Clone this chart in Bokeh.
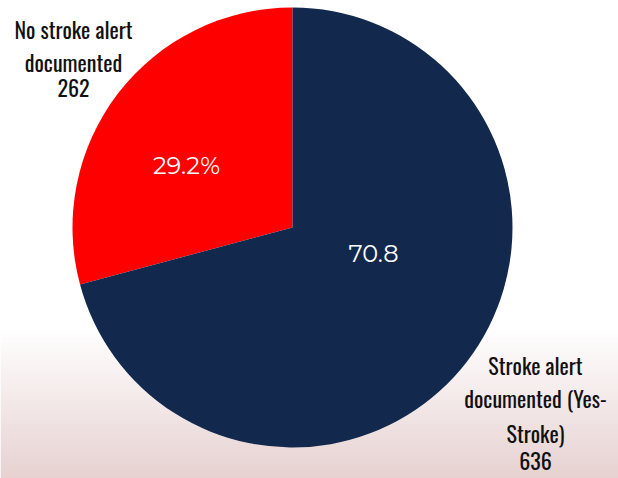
import math
import numpy as np
from bokeh.plotting import figure
from bokeh.models import ColumnDataSource, Range1d
from bokeh.core.properties import value
from bokeh.embed import file_html
from bokeh.resources import INLINE

# ---- data ----
categories = ["No stroke alert documented", "Stroke alert documented (Yes-Stroke)"]
counts = [262, 636]
pct_labels = ["29.2%", "70.8"]
colors = ["#FF0000", "#12294D"]

W, H = 618, 478
p = figure(width=W, height=H, output_backend="svg", toolbar_location=None,
           x_range=Range1d(0, W), y_range=Range1d(0, H), min_border=0,
           border_fill_color="white", background_fill_color="white")
p.axis.visible = False
p.grid.visible = False
p.outline_line_color = None

# background: full-height image, white above, gradient to pale pink over the last rows
g_h = 150  # gradient height in px (from page bottom)
bot_rgb = np.array([231, 209, 209], dtype=float)
img = np.zeros((H, 1), dtype=np.uint32)
view = img.view(dtype=np.uint8).reshape((H, 1, 4))
for row in range(H):
    t = max(0.0, 1 - (row + 0.5) / g_h)  # row 0 is bottom
    c = 255 + (bot_rgb - 255) * t
    view[row, 0, 0:3] = np.round(c).astype(np.uint8)
    view[row, 0, 3] = 255
p.image_rgba(image=[img], x=0, y=0, dw=W, dh=H)

# pie
cx, cy, R = 292, H - 227, 220
total = sum(counts)
frac0 = counts[0] / total
starts = [math.pi / 2, math.pi / 2 + 2 * math.pi * frac0]
ends = [math.pi / 2 + 2 * math.pi * frac0, math.pi / 2 + 2 * math.pi]
src = ColumnDataSource(dict(start=starts, end=ends, color=colors, cat=categories))
p.wedge(x=cx, y=cy, radius=R, start_angle="start", end_angle="end",
        fill_color="color", line_color=None, source=src)

dy = 10  # baseline correction

# inner labels
p.text(x=[186, 373], y=[H - 175 + dy, H - 263 + dy], text=pct_labels, text_color="white",
       text_font=value("'Montserrat Light', Montserrat, Lato"), text_font_size="24px",
       text_align="center", text_baseline="alphabetic")

lab_font = value("Oswald")
# outer labels
left_lines = ["No stroke alert", "documented", str(counts[0])]
left_y = [38, 71, 97]
p.text(x=[73] * 3, y=[H - v + dy for v in left_y], text=left_lines, text_color="#111111",
       text_font=lab_font, text_font_size="22px", text_align="center",
       text_baseline="alphabetic")

right_lines = ["Stroke alert", "documented (Yes-", "Stroke)", str(counts[1])]
right_y = [374, 407, 442, 470]
p.text(x=[535] * 4, y=[H - v + dy for v in right_y], text=right_lines, text_color="#111111",
       text_font=lab_font, text_font_size="22px", text_align="center",
       text_baseline="alphabetic")

open("out.html", "w").write(file_html(p, INLINE))
